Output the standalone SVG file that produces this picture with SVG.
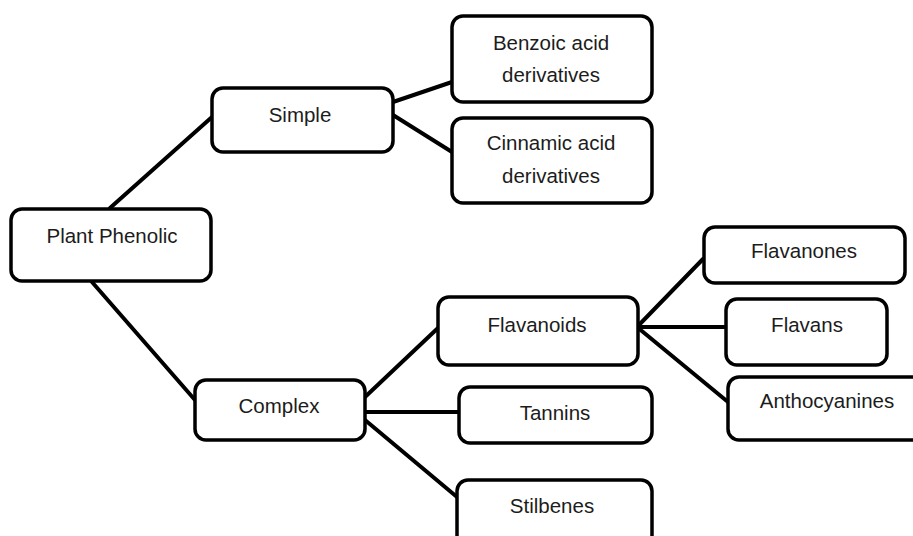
<svg xmlns="http://www.w3.org/2000/svg" width="913" height="536" viewBox="0 0 913 536">
  <style>
    .box { fill: #ffffff; stroke: #000000; stroke-width: 3.5; }
    .edge { stroke: #000000; stroke-width: 4; fill: none; stroke-linecap: round; }
    .label { font-family: "Liberation Sans", Arial, sans-serif; font-size: 20.5px; fill: #1c1c1c; text-anchor: middle; }
  </style>
  <rect width="913" height="536" fill="#ffffff"/>

  <!-- connectors -->
  <g id="connectors">
    <line class="edge" x1="110" y1="208" x2="212" y2="117"/>
    <line class="edge" x1="92" y1="282" x2="195" y2="400"/>
    <line class="edge" x1="393" y1="102" x2="452" y2="82"/>
    <line class="edge" x1="393" y1="115" x2="452" y2="152"/>
    <line class="edge" x1="365" y1="397" x2="438" y2="328"/>
    <line class="edge" x1="365" y1="412" x2="459" y2="412"/>
    <line class="edge" x1="365" y1="420" x2="457" y2="497"/>
    <line class="edge" x1="637" y1="327" x2="703" y2="259"/>
    <line class="edge" x1="637" y1="327" x2="726" y2="327"/>
    <line class="edge" x1="637" y1="327" x2="728" y2="402"/>
  </g>

  <g id="plant-phenolic">
    <rect class="box" x="11" y="209" width="200" height="72" rx="11"/>
    <text class="label" x="112" y="243">Plant Phenolic</text>
  </g>

  <g id="simple">
    <rect class="box" x="212" y="88" width="181" height="64" rx="11"/>
    <text class="label" x="300" y="122">Simple</text>
  </g>

  <g id="benzoic">
    <rect class="box" x="452" y="16" width="200" height="86" rx="11"/>
    <text class="label" x="551" y="50">Benzoic acid</text>
    <text class="label" x="551" y="82">derivatives</text>
  </g>

  <g id="cinnamic">
    <rect class="box" x="452" y="118" width="200" height="85" rx="11"/>
    <text class="label" x="551" y="150">Cinnamic acid</text>
    <text class="label" x="551" y="183">derivatives</text>
  </g>

  <g id="complex">
    <rect class="box" x="195" y="380" width="170" height="60" rx="11"/>
    <text class="label" x="279" y="413">Complex</text>
  </g>

  <g id="flavanoids">
    <rect class="box" x="438" y="297" width="200" height="68" rx="11"/>
    <text class="label" x="537" y="332">Flavanoids</text>
  </g>

  <g id="tannins">
    <rect class="box" x="459" y="387" width="193" height="56" rx="11"/>
    <text class="label" x="555" y="420">Tannins</text>
  </g>

  <g id="stilbenes">
    <rect class="box" x="457" y="480" width="195" height="66" rx="11"/>
    <text class="label" x="552" y="513">Stilbenes</text>
  </g>

  <g id="flavanones">
    <rect class="box" x="704" y="227" width="201" height="56" rx="11"/>
    <text class="label" x="804" y="258">Flavanones</text>
  </g>

  <g id="flavans">
    <rect class="box" x="726" y="299" width="161" height="66" rx="11"/>
    <text class="label" x="807" y="332">Flavans</text>
  </g>

  <g id="anthocyanines">
    <rect class="box" x="728" y="377" width="200" height="63" rx="11"/>
    <text class="label" x="827" y="408">Anthocyanines</text>
  </g>
</svg>
